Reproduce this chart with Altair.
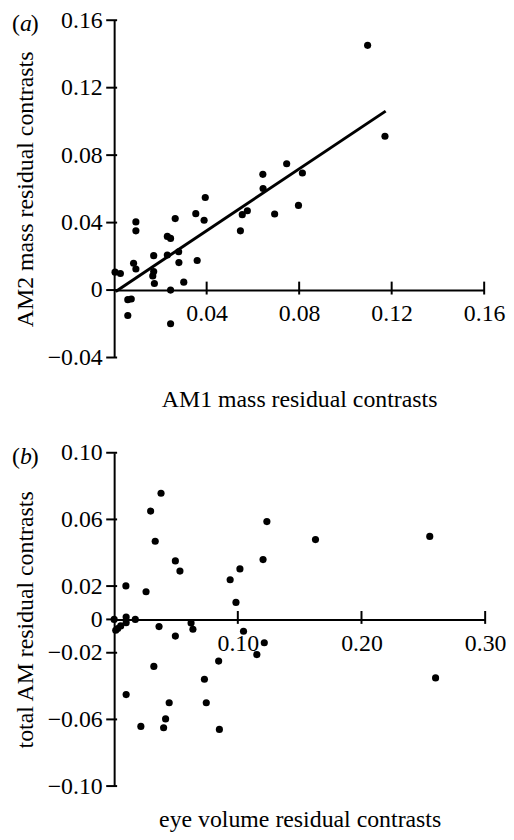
import altair as alt
import pandas as pd

# ---------------- data ----------------
a_x = [0.0004, 0.0027, 0.0059, 0.0074, 0.0059, 0.0084, 0.0094, 0.0094, 0.0094,
       0.0171, 0.0171, 0.0167, 0.0174, 0.0230, 0.0230, 0.0244, 0.0264, 0.0279,
       0.0280, 0.0301, 0.0244, 0.0244, 0.0353, 0.0359, 0.0389, 0.0394, 0.0546,
       0.0554, 0.0576, 0.0643, 0.0644, 0.0694, 0.0746, 0.0797, 0.0814, 0.1096,
       0.1171]
a_y = [0.0106, 0.0098, -0.0057, -0.0053, -0.0151, 0.0159, 0.0125, 0.0404, 0.0351,
       0.0204, 0.0110, 0.0084, 0.0039, 0.0208, 0.0318, 0.0306, 0.0424, 0.0227,
       0.0163, 0.0047, 0.0000, -0.0200, 0.0453, 0.0175, 0.0414, 0.0549, 0.0351,
       0.0447, 0.0470, 0.0686, 0.0602, 0.0451, 0.0749, 0.0502, 0.0694, 0.1451,
       0.0912]
fit_x = [0.0007, 0.1174]
fit_y = [-0.0008, 0.1061]

b_x = [0.0000, 0.0013, 0.0029, 0.0053, 0.0097, 0.0097, 0.0171, 0.0095, 0.0097,
       0.0216, 0.0258, 0.0295, 0.0379, 0.0332, 0.0363, 0.0321, 0.0400, 0.0416,
       0.0445, 0.0495, 0.0532, 0.0495, 0.0622, 0.0637, 0.0730, 0.0745, 0.0845,
       0.0851, 0.0938, 0.0985, 0.1017, 0.1046, 0.1154, 0.1204, 0.1214, 0.1235,
       0.1628, 0.2552, 0.2599]
b_y = [0.0000, -0.0065, -0.0055, -0.0039, 0.0014, -0.0020, 0.0000, 0.0201, -0.0451,
       -0.0642, 0.0166, 0.0650, 0.0757, 0.0469, -0.0043, -0.0282, -0.0650, -0.0597,
       -0.0500, 0.0351, 0.0290, -0.0100, -0.0022, -0.0059, -0.0359, -0.0500, -0.0250,
       -0.0660, 0.0238, 0.0102, 0.0303, -0.0071, -0.0211, 0.0359, -0.0140, 0.0587,
       0.0479, 0.0498, -0.0351]

a_xticks = [0.04, 0.08, 0.12, 0.16]
a_yticks = [-0.04, 0, 0.04, 0.08, 0.12, 0.16]
b_xticks = [0.10, 0.20, 0.30]
b_yticks = [-0.10, -0.06, -0.02, 0, 0.02, 0.06, 0.10]

FONT = "Liberation Serif"
LBL = 24
TTL = 24
lab_expr = "datum.value == 0 ? '0' : format(datum.value, '.2f')"


def axis_common(**kw):
    base = dict(grid=False, domainColor="black", domainWidth=2, ticks=False,
                labelFont=FONT, labelFontSize=LBL,
                labelColor="black", titleFont=FONT, titleFontSize=TTL,
                titleFontWeight="normal", titleColor="black", labelExpr=lab_expr,
                labelPadding=12, labelFlush=False, labelOverlap=False)
    base.update(kw)
    return alt.Axis(**base)


def panel(xs, ys, xdom, ydom, xticks, yticks, xtitle, ytitle, w, h, letter,
          xtitle_y, fx=None, fy=None):
    df = pd.DataFrame({"x": xs, "y": ys})
    off = -h * (0 - ydom[0]) / (ydom[1] - ydom[0])
    X = alt.X("x:Q", scale=alt.Scale(domain=xdom, nice=False, zero=False),
              axis=axis_common(values=xticks, title=xtitle, offset=off,
                               titleY=xtitle_y, titleBaseline="top"))
    Y = alt.Y("y:Q", scale=alt.Scale(domain=ydom, nice=False, zero=False),
              axis=axis_common(values=yticks, title=ytitle, titlePadding=10))
    pts = alt.Chart(df).mark_circle(size=52, color="black", opacity=1).encode(x=X, y=Y)
    layers = [pts]
    if fx is not None:
        ldf = pd.DataFrame({"x": fx, "y": fy})
        line = alt.Chart(ldf).mark_line(color="black", strokeWidth=3).encode(
            x=alt.X("x:Q"), y=alt.Y("y:Q"))
        layers.append(line)
    # crossing tick marks on both axes (at the tick values)
    xt = pd.DataFrame({"x": xticks, "y": [0] * len(xticks)})
    layers.append(alt.Chart(xt).mark_tick(orient="vertical", size=13, thickness=2,
                                          color="black", opacity=1, yOffset=-2).encode(
        x=alt.X("x:Q"), y=alt.Y("y:Q")))
    yt = pd.DataFrame({"x": [xdom[0]] * len(yticks), "y": yticks})
    layers.append(alt.Chart(yt).mark_tick(orient="horizontal", size=11, thickness=2,
                                          color="black", opacity=1, xOffset=-2.5).encode(
        x=alt.X("x:Q"), y=alt.Y("y:Q")))
    pieces = [("(", "normal", -103), (letter, "italic", -95), (")", "normal", -84)]
    for t, st, px in pieces:
        layers.append(
            alt.Chart(pd.DataFrame({"t": [t]})).mark_text(
                font=FONT, fontSize=LBL, fontStyle=st, align="left",
                baseline="middle", color="black"
            ).encode(text="t:N", x=alt.value(px), y=alt.value(4))
        )
    return alt.layer(*layers).properties(width=w, height=h)


pa = panel(a_x, a_y, [0, 0.16], [-0.04, 0.16], a_xticks, a_yticks,
           "AM1 mass residual contrasts", "AM2 mass residual contrasts",
           373, 340, "a", 98, fit_x, fit_y)
pb = panel(b_x, b_y, [0, 0.30], [-0.10, 0.10], b_xticks, b_yticks,
           "eye volume residual contrasts", "total AM residual contrasts",
           374, 336, "b", 190)

chart = alt.vconcat(pa, pb, spacing=30).properties(
    padding={"left": 4, "top": -3, "right": 0, "bottom": 0}
).configure_view(stroke=None)

chart.save("out.html", embed_options={"renderer": "svg", "actions": False})
